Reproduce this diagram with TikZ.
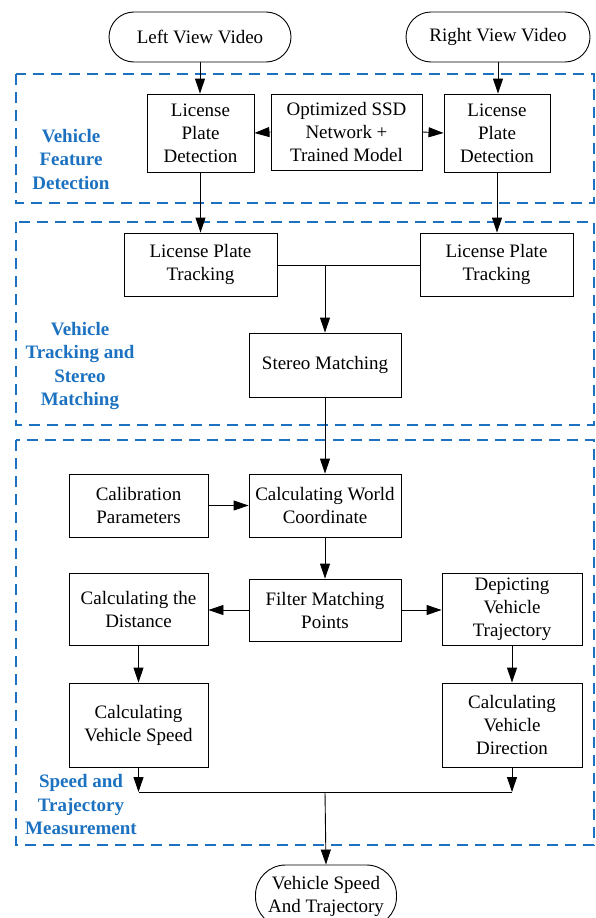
\documentclass[tikz,border=0pt]{standalone}
\usepackage{fontspec}
\setmainfont{Liberation Serif}
\usetikzlibrary{arrows.meta}
\definecolor{grpblue}{RGB}{28,114,192}
\tikzset{
  base/.style={font=\fontsize{19}{23}\selectfont, align=center, inner sep=0pt},
  proc/.style={base, draw, line width=0.9pt, anchor=center},
  term/.style={base, draw, line width=0.9pt, anchor=center},
  grp/.style={draw=grpblue, line width=2pt, dash pattern=on 11pt off 7pt},
  grplabel/.style={font=\bfseries\fontsize{19}{23.5}\selectfont, text=grpblue, align=center, inner sep=0pt},
  conn/.style={line width=0.9pt, -{Triangle[length=15pt,width=10pt]}},
  plain/.style={line width=0.9pt},
}
\begin{document}
\begin{tikzpicture}[x=1pt,y=-1pt]
\useasboundingbox (0,0) rectangle (596,918);
\clip (0,0) rectangle (596,918);
% group frames
\draw[grp] (16,74) rectangle (594,203);
\draw[grp] (16,222) rectangle (594,425);
\draw[grp] (16,440) rectangle (594,845);
% group labels
\node[grplabel] (g1) at (71,159) {Vehicle\\Feature\\Detection};
\node[grplabel] (g2) at (80,366) {Vehicle\\Tracking and\\Stereo\\Matching};
\node[grplabel] (g3) at (81,805) {Speed and\\Trajectory\\Measurement};
% terminals
\node[term, minimum width=182pt, minimum height=50pt, rounded corners=25pt] (leftv) at (200,37) {Left View Video};
\node[term, minimum width=184pt, minimum height=50pt, rounded corners=25pt] (rightv) at (498,37) {Right View Video};
\node[term, minimum width=141pt, minimum height=62pt, rounded corners=30pt] (outv) at (326,896) {Vehicle Speed\\And Trajectory};
% boxes
\node[proc, minimum width=107pt, minimum height=78pt] (lpdL) at (200.5,133) {License\\Plate\\Detection};
\node[proc, minimum width=151pt, minimum height=76pt] (ssd) at (346.5,132) {Optimized SSD\\Network +\\Trained Model};
\node[proc, minimum width=106pt, minimum height=78pt] (lpdR) at (497,133) {License\\Plate\\Detection};
\node[proc, minimum width=153pt, minimum height=63pt] (lptL) at (200.5,264.5) {License Plate\\Tracking};
\node[proc, minimum width=153pt, minimum height=63pt] (lptR) at (496.5,264.5) {License Plate\\Tracking};
\node[proc, minimum width=152pt, minimum height=64pt] (stereo) at (325,365) {Stereo Matching};
\node[proc, minimum width=139pt, minimum height=63pt] (calib) at (138.5,505.5) {Calibration\\Parameters};
\node[proc, minimum width=152pt, minimum height=63pt] (world) at (325,505.5) {Calculating World\\Coordinate};
\node[proc, minimum width=139pt, minimum height=72pt] (dist) at (138.5,609) {Calculating the\\Distance};
\node[proc, minimum width=152pt, minimum height=62pt] (filter) at (325,610) {Filter Matching\\Points};
\node[proc, minimum width=140pt, minimum height=72pt] (depict) at (512,609) {Depicting\\Vehicle\\Trajectory};
\node[proc, minimum width=139pt, minimum height=84pt] (speed) at (138.5,725) {Calculating\\Vehicle Speed};
\node[proc, minimum width=140pt, minimum height=84pt] (dir) at (512,725) {Calculating\\Vehicle\\Direction};
% junction coordinates
\coordinate (j1) at (325,265);
\coordinate (jl) at (138.5,792);
\coordinate (jr) at (512,792);
\coordinate (j2) at (325,792);
% connectors
\draw[conn] (leftv.south) -- (lpdL.north -| leftv.south);
\draw[conn] (rightv.south) -- (lpdR.north -| rightv.south);
\draw[conn] (ssd.west) -- (lpdL.east);
\draw[conn] (ssd.east) -- (lpdR.west);
\draw[conn] (lpdL.south) -- (lptL.north);
\draw[conn] (lpdR.south) -- (lptR.north -| lpdR.south);
\draw[plain] (lptL.east |- j1) -- (lptR.west |- j1);
\draw[conn] (j1) -- (stereo.north);
\draw[conn] (stereo.south) -- (world.north);
\draw[conn] (calib.east) -- (world.west);
\draw[conn] (world.south) -- (filter.north);
\draw[conn] (filter.west) -- (dist.east |- filter.west);
\draw[conn] (filter.east) -- (depict.west |- filter.east);
\draw[conn] (dist.south) -- (speed.north);
\draw[conn] (depict.south) -- (dir.north);
\draw[conn] (speed.south) -- (jl);
\draw[conn] (dir.south) -- (jr);
\draw[plain] (jl) -- (jr);
\draw[conn] (j2) -- (outv.north);
\end{tikzpicture}
\end{document}
